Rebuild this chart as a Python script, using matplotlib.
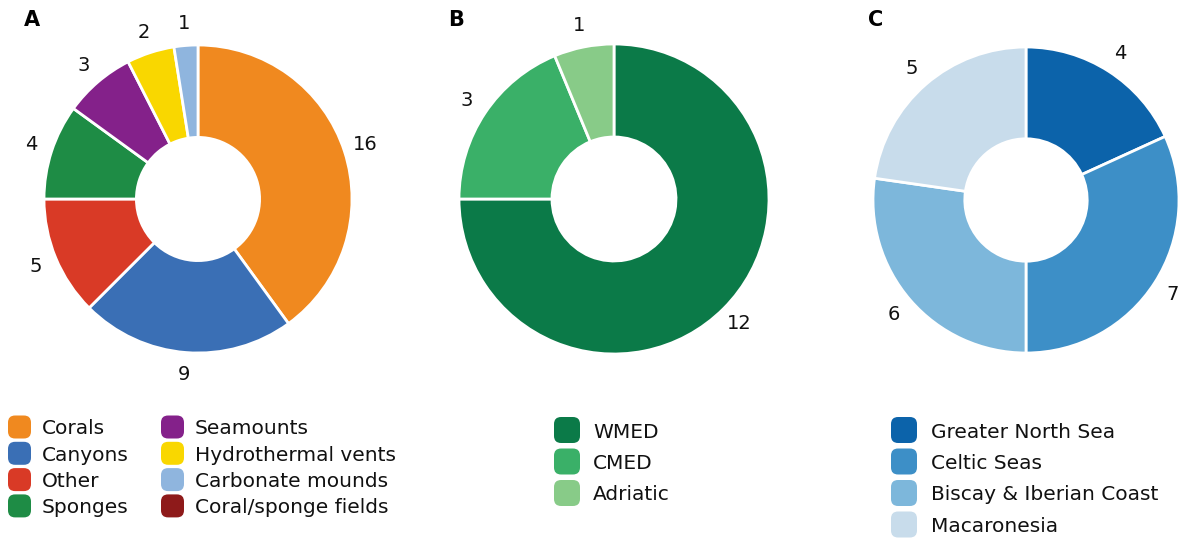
import matplotlib
matplotlib.use("Agg")
import matplotlib.pyplot as plt
from matplotlib.patches import FancyBboxPatch

plt.rcParams['font.family'] = ['DejaVu Sans']

# ---- data ----
habitat_labels = ["Corals", "Canyons", "Other", "Sponges", "Seamounts",
                  "Hydrothermal vents", "Carbonate mounds", "Coral/sponge fields"]
habitat_values = [16, 9, 5, 4, 3, 2, 1, 0]
habitat_colors = ["#F0891F", "#3A6FB5", "#D93A26", "#1E8C45", "#84218A",
                  "#F9D700", "#8FB5DE", "#8E1A1A"]

med_labels = ["WMED", "CMED", "Adriatic"]
med_values = [12, 3, 1]
med_colors = ["#0B7A48", "#3AB068", "#88CB88"]

atl_labels = ["Greater North Sea", "Celtic Seas", "Biscay & Iberian Coast", "Macaronesia"]
atl_values = [4, 7, 6, 5]
atl_colors = ["#0C63AA", "#3D8FC7", "#7DB7DB", "#C8DCEB"]

W, H = 1178, 540
fig = plt.figure(figsize=(W / 100, H / 100), dpi=100)


def px_axes(cx, cy, r):
    return fig.add_axes([(cx - r) / W, (H - cy - r) / H, 2 * r / W, 2 * r / H])


def donut(cx, cy, r, values, colors):
    ax = px_axes(cx, cy, r)
    nz = [(v, c) for v, c in zip(values, colors) if v > 0]
    vals = [v for v, _ in nz]
    cols = [c for _, c in nz]
    ax.pie(vals, colors=cols, startangle=90, counterclock=False, radius=1,
           labels=[str(v) for v in vals], labeldistance=1.14,
           textprops=dict(fontsize=14, color="#111111", ha="center", va="center"),
           wedgeprops=dict(width=0.6, edgecolor="white", linewidth=2))
    for t in ax.texts:
        t.set_horizontalalignment("center")
    ax.set_xlim(-1, 1)
    ax.set_ylim(-1, 1)
    ax.set_aspect("equal")
    ax.axis("off")
    return ax


donut(198, 199, 154, habitat_values, habitat_colors)
donut(614, 199, 155, med_values, med_colors)
donut(1026, 200, 153, atl_values, atl_colors)

# panel letters
for letter, x in [("A", 24), ("B", 448), ("C", 868)]:
    fig.text(x / W, 1 - 20 / H, letter, fontsize=15, fontweight="bold",
             ha="left", va="center")


def legend(items, colors, x_sq, x_txt, y0, dy, sq):
    for i, (lab, col) in enumerate(zip(items, colors)):
        yc = y0 + i * dy
        p = FancyBboxPatch(((x_sq) / W, 1 - (yc + sq / 2) / H), sq / W, sq / H,
                           boxstyle="round,pad=0,rounding_size=0.006",
                           transform=fig.transFigure, facecolor=col,
                           edgecolor="none", mutation_aspect=W / H)
        fig.add_artist(p)
        fig.text(x_txt / W, 1 - yc / H, lab, fontsize=14.5, ha="left",
                 va="center_baseline", color="#111111")


legend(habitat_labels[:4], habitat_colors[:4], 8, 42, 427, 26.3, 23)
legend(habitat_labels[4:], habitat_colors[4:], 161, 195, 427, 26.3, 23)
legend(med_labels, med_colors, 554, 593, 430, 31.5, 26)
legend(atl_labels, atl_colors, 891, 931, 430, 31.5, 26)

fig.savefig("out.png", dpi=100)
